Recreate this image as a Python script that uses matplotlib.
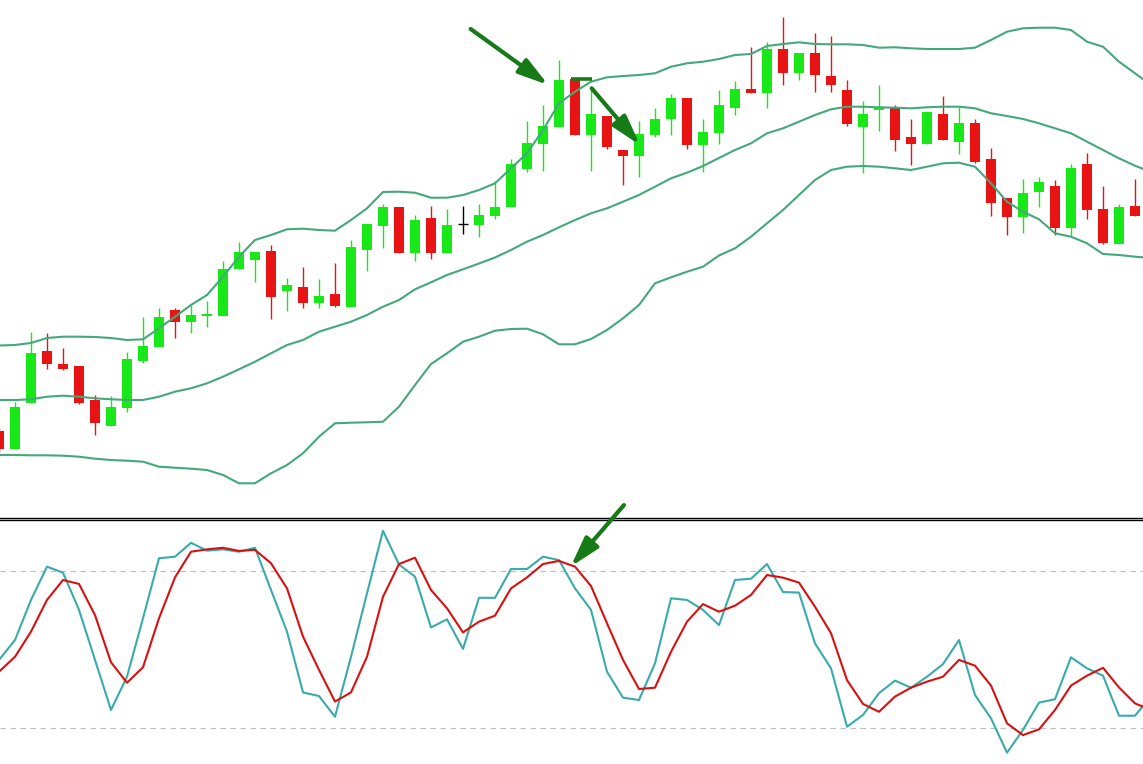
import matplotlib
matplotlib.use("Agg")
import matplotlib.pyplot as plt
import numpy as np
from matplotlib.lines import Line2D

# ---------------- data ----------------
# candle OHLC (arbitrary price units)
opens = [169, 151, 197.3, 249, 236, 234, 200, 174.3, 192, 239, 253.3, 290, 278.3, 284.3, 284.3,
         330.7, 339.7, 349, 309.3, 313, 296.7, 306, 293.3, 350.5, 374.3, 393, 347.3, 382, 347.3, 376,
         375, 384, 392.7, 431.3, 456.3, 473, 520.7, 465.3, 484, 450, 444.3, 465, 480.7, 502, 455.3,
         467.3, 492.3, 511, 507.3, 551, 527.3, 547, 524, 510, 473.3, 489.7, 492, 463.3, 456.3, 486,
         458.3, 477, 441, 402, 383.3, 408.3, 414, 372.3, 436, 391, 356.3, 394]
highs = [172, 198, 268, 267, 252.3, 234, 205, 204, 248.3, 283.3, 292.3, 292, 295, 299.3, 339,
         358.3, 348, 355, 322, 333, 321, 337.3, 360, 376, 395.7, 393, 384.7, 394, 390.7, 394,
         396, 419, 441, 479.3, 495, 540, 520.7, 512, 484, 450, 479, 491.7, 506, 502, 481,
         510, 519, 553, 557.7, 583.3, 547, 567, 564, 520, 499, 515, 494.7, 481, 488.3, 504,
         493.3, 481, 452, 402, 421, 423, 420, 436, 447, 414, 396, 421]
lows = [148, 151, 197.3, 231.3, 230.5, 196, 165, 174.3, 188.3, 237.3, 253.3, 262.3, 267.3, 273.3, 284.3,
        330.7, 318.3, 280.7, 289.3, 291.7, 292, 293.3, 293.3, 329.5, 352.3, 347.3, 339.3, 341.3, 347.3, 366,
        363.3, 381, 392.7, 428.3, 429.3, 473, 465.3, 429.3, 451.3, 415, 422.7, 462.7, 465, 451.3, 428.3,
        456, 485, 507.3, 491.7, 514.7, 519.7, 507.7, 507.7, 474.3, 426.7, 469.3, 449.3, 435.3, 456.3, 460.3,
        446.3, 437.3, 384.3, 365.3, 366.7, 392.7, 365.3, 363.3, 381.3, 356.5, 356.3, 384.3]
closes = [151, 193, 247.3, 236, 231.3, 197.3, 177.3, 193, 241, 254, 283, 278.3, 285, 286, 331,
          348, 348, 303.3, 314.7, 296.7, 304, 294.3, 353, 376, 393, 347.3, 380, 347.3, 375, 376,
          385, 392.7, 436, 456.7, 474, 520, 465.3, 485.7, 453.3, 444.3, 466, 481, 502, 455.3, 468,
          495, 510.7, 507.3, 551, 527.3, 547, 525.3, 514.7, 476.3, 486, 492.7, 460.3, 456.3, 488.3, 460.3,
          477, 438.3, 397.3, 383.3, 407, 418, 372.3, 432, 390.3, 357.3, 393, 384.3]

# Bollinger bands (one value per bar, plus one bar beyond the right edge)
bb_upper = [254.5, 255, 257, 262, 263.3, 263.3, 263, 262, 260, 260.7, 271.7, 283.3, 295, 305, 323.3,
            343.3, 360, 365, 370.7, 371.3, 370, 369.3, 380, 391.7, 408, 408.3, 407.3, 402.3, 402.3, 405,
            410, 416.7, 431.7, 446.7, 470, 496.7, 508.3, 518.3, 522.7, 524, 525, 526.7, 533.3, 536.7, 538.3,
            541, 545, 546, 554, 556, 557.7, 556, 555.7, 555.7, 555, 552.3, 552.7, 551.7, 551, 551,
            551, 552.3, 560, 568.3, 571.7, 572.3, 572.3, 570, 558.3, 553.3, 538.3, 526.7, 515]
bb_middle = [200, 200, 200.7, 203.3, 204.3, 203.3, 201.7, 200.7, 200, 200, 203.3, 208.3, 211.7, 216.7, 223.3,
             230.7, 238.3, 246.7, 255, 260, 268.3, 273.3, 278.3, 285, 293.3, 300, 310.7, 317.7, 325, 330.7,
             336.5, 342.5, 350, 358.3, 365, 372.7, 380, 386.7, 391.7, 398.3, 405, 413.3, 421.7, 427.3, 434,
             442, 450, 456.7, 466.7, 471.7, 478.3, 485, 490.7, 493.3, 493.3, 492.7, 492.3, 491.7, 492.7, 493.3,
             493.3, 491.7, 486.7, 484, 481, 476.7, 471.7, 466.7, 458.3, 450, 441.7, 434.3, 428]
bb_lower = [145, 145, 144.7, 144.7, 144.3, 143.3, 141.3, 140, 139.3, 138.3, 133.3, 132.3, 131.3, 130, 125,
            116.7, 116.7, 126.7, 135, 146.7, 163.3, 176.7, 177.3, 177.7, 178.3, 193.3, 215, 236, 246.7, 258.3,
            263.3, 269.3, 271, 271.3, 265.7, 255.7, 255.7, 261, 270, 281.7, 295, 316.7, 322.7, 328.3, 333.3,
            344.5, 351.7, 363.3, 376.7, 390, 405, 420, 430, 433.3, 434, 433.3, 431.7, 430, 433.3, 436.7,
            437.3, 433.3, 416.7, 398.3, 388.3, 380.7, 366.7, 363.3, 356.7, 346, 345, 343.3, 342]

# Stochastic oscillator (%K main, %D signal)
stoch_k = [46.1, 53.7, 69.0, 81.7, 79.4, 65.2, 46.1, 27.0, 39.7, 62.0,
           84.9, 85.5, 90.8, 87.8, 88.3, 87.4, 88.9, 72.8, 56.9, 33.7,
           32.3, 24.4, 47.3, 71.5, 95.4, 82.5, 77.9, 58.5, 61.6, 50.3,
           69.8, 69.8, 80.8, 80.8, 85.5, 84.2, 73.4, 65.2, 41.6, 31.7,
           30.8, 44.8, 69.6, 69.0, 65.2, 59.4, 76.6, 77.1, 82.7, 72.0,
           71.8, 52.4, 42.9, 20.6, 25.1, 33.4, 38.2, 35.5, 39.7, 44.5,
           53.7, 32.7, 23.8, 10.7, 19.4, 29.8, 31.1, 47.1, 42.9, 40.1,
           24.8, 24.8, 32.2]
stoch_d = [41.6, 47.3, 56.9, 69.0, 76.6, 75.1, 63.2, 45.2, 37.4, 43.3,
           62.0, 77.6, 87.4, 88.3, 88.9, 87.7, 88.1, 83.0, 73.4, 55.0,
           42.3, 30.2, 33.7, 47.3, 70.2, 82.7, 85.1, 72.8, 65.8, 56.6,
           60.7, 63.0, 73.4, 77.6, 82.7, 83.9, 81.7, 74.3, 60.1, 46.1,
           35.0, 35.5, 49.2, 60.7, 67.4, 64.5, 66.8, 70.9, 78.5, 77.5,
           75.6, 66.4, 56.3, 38.4, 29.3, 26.3, 32.1, 35.5, 37.8, 39.7,
           46.1, 43.9, 36.3, 21.9, 17.4, 19.6, 27.0, 36.3, 40.1, 43.1,
           35.6, 29.5, 27.0]
stoch_levels = [80, 20]

# ---------------- styles ----------------
UP = "#18e818"
DOWN = "#e81414"
BAND = "#43a97a"
K_COL = "#3aabab"
D_COL = "#d81010"
ARROW = "#167a16"

W, H = 1143, 764
fig = plt.figure(figsize=(W / 100, H / 100), dpi=100, facecolor="white")

main_h = 516 / H
ax = fig.add_axes([0, 1 - main_h, 1, main_h])
ax.set_facecolor("none")
sub_h = 244 / H
ax2 = fig.add_axes([0, 0, 1, sub_h])
ax2.set_facecolor("none")

n = len(opens)
x = np.arange(n)
xb = np.arange(len(bb_upper))

o = np.array(opens); c = np.array(closes); h = np.array(highs); l = np.array(lows)
colors = []
for oi, ci in zip(o, c):
    if ci > oi:
        colors.append(UP)
    elif ci < oi:
        colors.append(DOWN)
    else:
        colors.append("black")

# wicks
ax.vlines(x, l, h, colors=colors, lw=1.0, zorder=1)
# bodies
body_w = 0.68
for xi, oi, ci, col in zip(x, o, c, colors):
    if oi == ci:
        ax.hlines(oi, xi - body_w / 2, xi + body_w / 2, colors=col, lw=1.0, zorder=2)
    else:
        ax.bar(xi, abs(ci - oi), bottom=min(oi, ci), width=body_w, color=col,
               linewidth=0, zorder=2)

# bands
for band in (bb_upper, bb_middle, bb_lower):
    ax.plot(xb, band, color=BAND, lw=1.5, zorder=3, solid_joinstyle="round")

ax.set_xlim(1 / 16, 1144 / 16)
ax.set_ylim(600 - 516, 600)
ax.axis("off")

# annotations on the price chart
aprops = dict(arrowstyle="-|>,head_length=0.9,head_width=0.26", lw=3, color=ARROW,
              mutation_scale=20, shrinkA=0, shrinkB=0)
ax.annotate("", xy=(34.33, 515), xytext=(29.48, 571), arrowprops=aprops, zorder=5)
ax.plot([35.75, 37.04], [521, 521], color=ARROW, lw=2.6, solid_capstyle="butt", zorder=5)
ax.annotate("", xy=(40.06, 455), xytext=(37.04, 511.7), arrowprops=aprops, zorder=5)

# stochastic panel
xs = np.arange(len(stoch_k))
for lev in stoch_levels:
    ax2.axhline(lev, color="#bdbdbd", lw=0.8, linestyle=(0, (5, 4)), zorder=1)
ax2.plot(xs, stoch_k, color=K_COL, lw=1.5, zorder=3)
ax2.plot(xs, stoch_d, color=D_COL, lw=1.5, zorder=4)
ax2.set_xlim(1 / 16, 1144 / 16)
ax2.set_ylim((780.7 - 764) / 2.62, (780.7 - 520) / 2.62)
ax2.axis("off")
ax2.annotate("", xy=(35.73, 81.7), xytext=(39.06, 105.2), arrowprops=aprops,
             annotation_clip=False, zorder=6)

# double separator line between panes
for yy in (517.5, 519.5):
    fig.add_artist(Line2D([0, 1], [1 - yy / H, 1 - yy / H], transform=fig.transFigure,
                          color="black", lw=1.0, zorder=-1))

fig.savefig("out.png", dpi=100, facecolor="white")
